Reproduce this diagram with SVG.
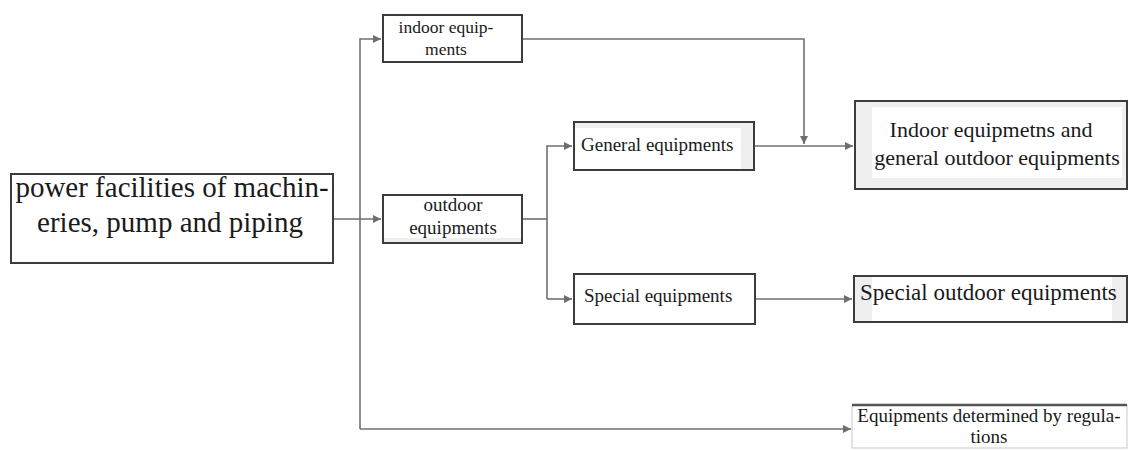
<svg xmlns="http://www.w3.org/2000/svg" width="1129" height="450" viewBox="0 0 1129 450">
<defs>
<marker id="arr" viewBox="0 0 10 10" refX="10" refY="5" markerWidth="8" markerHeight="8" markerUnits="userSpaceOnUse" orient="auto">
<path d="M0,0 L10,5 L0,10 z" fill="#6e6e6e"/>
</marker>
<style>
.box{fill:#ffffff;stroke:#3c3c3c;stroke-width:2}
.gbox{fill:#efefef;stroke:#3c3c3c;stroke-width:2}
.inner{fill:#ffffff;stroke:none}
.t{font-family:"Liberation Serif","Times New Roman",serif;fill:#1a1a1a;text-anchor:middle}
.tl{font-family:"Liberation Serif","Times New Roman",serif;fill:#1a1a1a}
.c{fill:none;stroke:#707070;stroke-width:1.6}
</style>
</defs>
<rect width="1129" height="450" fill="#ffffff"/>
<g id="connectors">
<path class="c" d="M333,219 H381" marker-end="url(#arr)"/>
<path class="c" d="M360,429 V39 H381" marker-end="url(#arr)"/>
<path class="c" d="M360,429 H851" marker-end="url(#arr)"/>
<path class="c" d="M522,39 H804 V144" marker-end="url(#arr)"/>
<path class="c" d="M754,146 H853" marker-end="url(#arr)"/>
<path class="c" d="M522,219 H547"/>
<path class="c" d="M547,299 V146 H572" marker-end="url(#arr)"/>
<path class="c" d="M547,299 H572" marker-end="url(#arr)"/>
<path class="c" d="M755,299 H852" marker-end="url(#arr)"/>
</g>
<g id="main">
<rect class="box" x="11" y="174" width="322" height="89"/>
<text class="t" x="172" y="197" font-size="29">power facilities of machin-</text>
<text class="t" x="170" y="232" font-size="29">eries, pump and piping</text>
</g>
<g id="indoor">
<rect class="box" x="383" y="15" width="139" height="47"/>
<text class="t" x="446" y="33" font-size="17.5">indoor equip-</text>
<text class="t" x="446" y="55" font-size="17.5">ments</text>
</g>
<g id="outdoor">
<rect class="gbox" x="383" y="195" width="139" height="48"/>
<rect class="inner" x="384" y="196" width="137" height="42"/>
<text class="t" x="453" y="211" font-size="19">outdoor</text>
<text class="t" x="453" y="234" font-size="19">equipments</text>
</g>
<g id="general">
<rect class="gbox" x="574" y="122" width="180" height="48"/>
<rect class="inner" x="575" y="128" width="166" height="41"/>
<text class="tl" x="581" y="151" font-size="19">General equipments</text>
</g>
<g id="special">
<rect class="box" x="574" y="274" width="181" height="50"/>
<text class="tl" x="584" y="302" font-size="19">Special equipments</text>
</g>
<g id="combined">
<rect class="gbox" x="855" y="101" width="272" height="88"/>
<rect class="inner" x="872" y="107" width="250" height="71"/>
<text class="t" x="991" y="137" font-size="22">Indoor equipmetns and</text>
<text class="t" x="997" y="165" font-size="22">general outdoor equipments</text>
</g>
<g id="special-outdoor">
<rect class="gbox" x="854" y="276" width="273" height="46"/>
<rect class="inner" x="872" y="277" width="240" height="44"/>
<text class="tl" x="860" y="300" font-size="23">Special outdoor equipments</text>
</g>
<g id="regulations">
<rect x="852" y="405" width="275" height="43" fill="#ffffff" stroke="#c8c8c8" stroke-width="1"/>
<line x1="852" y1="405" x2="1127" y2="405" stroke="#555555" stroke-width="2.5"/>
<text class="t" x="989" y="422" font-size="19">Equipments determined by regula-</text>
<text class="t" x="989" y="443" font-size="19">tions</text>
</g>
</svg>
